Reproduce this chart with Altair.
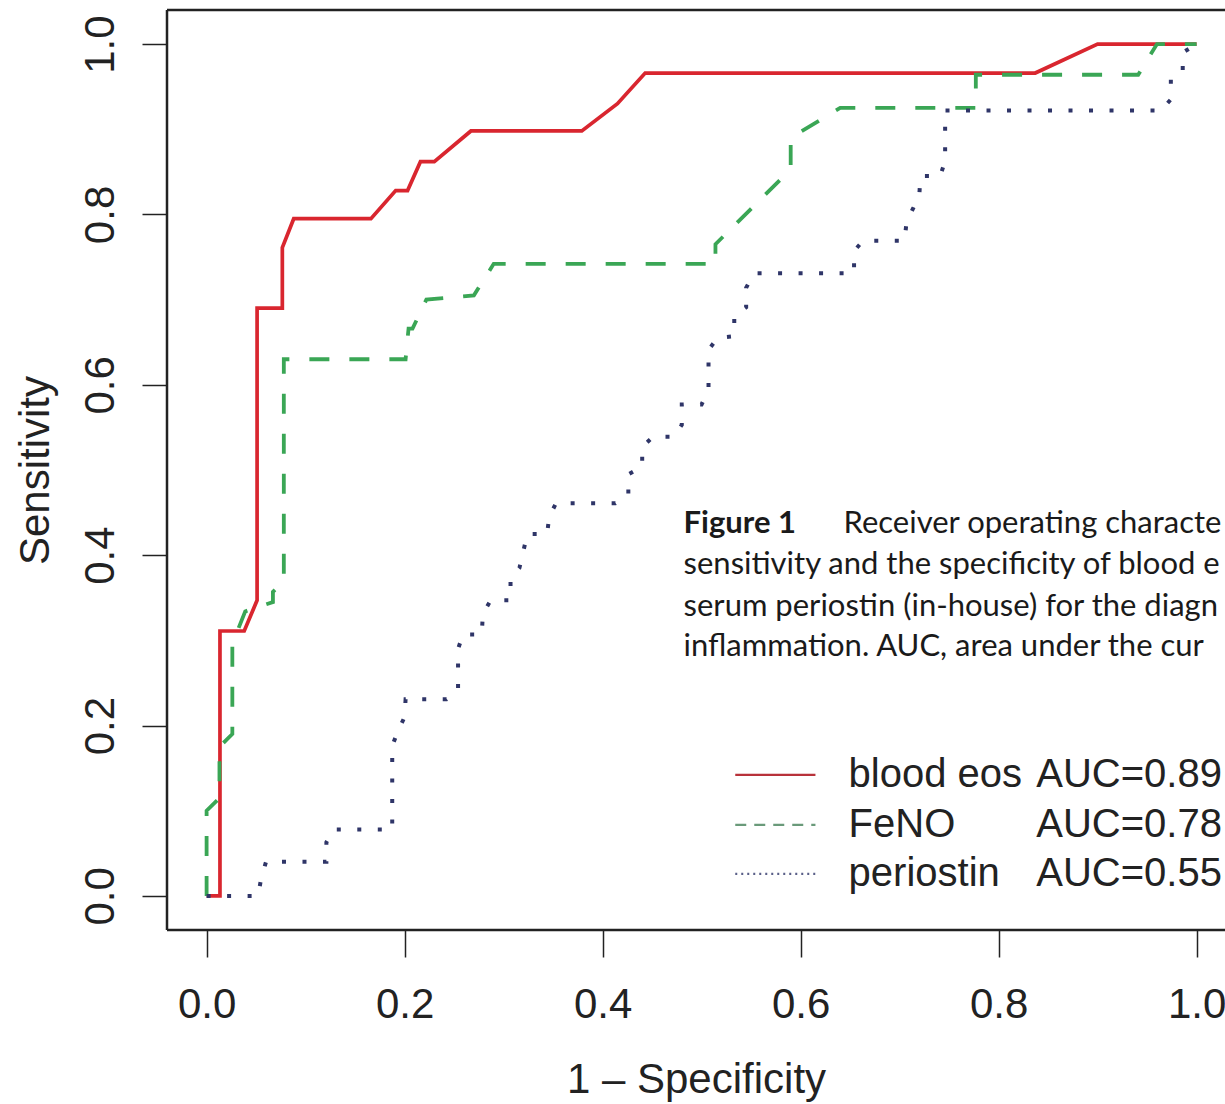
import altair as alt
import pandas as pd

# ---------------- data ----------------
eos_x = [0, 0.0135, 0.0135, 0.038, 0.051, 0.051, 0.0765, 0.0765, 0.088, 0.166, 0.191, 0.203,
         0.216, 0.23, 0.267, 0.379, 0.415, 0.443, 0.837, 0.900, 1.0]
eos_y = [0, 0, 0.311, 0.311, 0.347, 0.690, 0.690, 0.761, 0.795, 0.795, 0.828, 0.828,
         0.862, 0.862, 0.898, 0.898, 0.930, 0.966, 0.966, 1.0, 1.0]

feno_x = [0, 0, 0.013, 0.013, 0.026, 0.026, 0.039, 0.067, 0.067, 0.078, 0.078, 0.201, 0.204,
          0.208, 0.222, 0.27, 0.29, 0.514, 0.514, 0.59, 0.59, 0.64, 0.777, 0.777, 0.941, 0.96, 1.0]
feno_y = [0, 0.1, 0.115, 0.175, 0.19, 0.296, 0.334, 0.345, 0.357, 0.369, 0.630, 0.630, 0.666,
          0.666, 0.70, 0.705, 0.742, 0.742, 0.765, 0.853, 0.89, 0.925, 0.925, 0.964, 0.964, 1.0, 1.0]

peri_x = [0, 0.052, 0.055, 0.06, 0.121, 0.121, 0.128, 0.1875, 0.1875, 0.193, 0.2, 0.201, 0.2424,
          0.254, 0.254, 0.259, 0.278, 0.279, 0.287, 0.307, 0.307, 0.316, 0.320, 0.324, 0.344,
          0.346, 0.353, 0.413, 0.426, 0.426, 0.44, 0.44, 0.451, 0.472, 0.48, 0.48, 0.5, 0.507,
          0.507, 0.516, 0.533, 0.533, 0.545, 0.545, 0.553, 0.654, 0.654, 0.663, 0.705, 0.707,
          0.714, 0.72, 0.721, 0.741, 0.746, 0.746, 0.964, 0.974, 0.974, 0.986, 0.986, 1.0]
peri_y = [0, 0, 0.02, 0.04, 0.04, 0.063, 0.078, 0.078, 0.176, 0.193, 0.21, 0.231, 0.231,
          0.242, 0.29, 0.307, 0.307, 0.331, 0.347, 0.347, 0.372, 0.385, 0.405, 0.425, 0.425,
          0.445, 0.461, 0.461, 0.471, 0.495, 0.504, 0.527, 0.539, 0.539, 0.553, 0.577, 0.577, 0.594,
          0.641, 0.655, 0.657, 0.681, 0.691, 0.714, 0.731, 0.731, 0.757, 0.769, 0.769, 0.791,
          0.808, 0.824, 0.845, 0.845, 0.863, 0.922, 0.922, 0.935, 0.96, 0.968, 0.99, 1.0]

tick_values = [0.0, 0.2, 0.4, 0.6, 0.8, 1.0]

legend_names = ["blood eos", "FeNO", "periostin"]
legend_auc = ["AUC=0.89", "AUC=0.78", "AUC=0.55"]

caption_lines = [
    "sensitivity and the specificity of blood e",
    "serum periostin (in-house) for the diagn",
    "inflammation. AUC, area under the cur",
]
caption_bold = "Figure 1"
caption_first = "Receiver operating characte"

# ---------------- scales / encodings ----------------
XMIN, XMAX = -0.04, 1.0287
YMIN, YMAX = -0.04, 1.04
FONT = "Liberation Sans"
CAP_FONT = "Lato"

xs = alt.Scale(domain=[XMIN, XMAX], nice=False, zero=False)
ys = alt.Scale(domain=[YMIN, YMAX], nice=False, zero=False)

x_axis = alt.Axis(values=tick_values, format=".1f", title="1 \u2013 Specificity",
                  tickSize=27, tickWidth=1.5, tickColor="#222", domain=False, grid=False,
                  labelFontSize=42, labelFont=FONT, labelColor="#222", labelPadding=27,
                  labelFlush=False, labelOverlap=False,
                  titleFontSize=42, titleFont=FONT, titleFontWeight="normal", titleColor="#222",
                  titlePadding=34)
y_axis = alt.Axis(values=tick_values, format=".1f", title="Sensitivity",
                  tickSize=25, tickWidth=1.5, tickColor="#222", domain=False, grid=False,
                  labelFontSize=42, labelFont=FONT, labelColor="#222", labelPadding=29,
                  labelAngle=-90, labelAlign="center", labelBaseline="alphabetic",
                  labelFlush=False, labelOverlap=False,
                  titleFontSize=42, titleFont=FONT, titleFontWeight="normal", titleColor="#222",
                  titlePadding=22)

X = alt.X("fpr:Q", scale=xs, axis=x_axis)
Y = alt.Y("tpr:Q", scale=ys, axis=y_axis)


def curve(xv, yv):
    return pd.DataFrame({"fpr": xv, "tpr": yv, "i": list(range(len(xv)))})


# frame (top, bottom, left)
frame_df = pd.DataFrame({
    "fpr": [XMIN, XMIN, XMIN],
    "fpr2": [XMAX, XMAX, XMIN],
    "tpr": [YMAX, YMIN, YMIN],
    "tpr2": [YMAX, YMIN, YMAX],
})
frame = alt.Chart(frame_df).mark_rule(color="#222", strokeWidth=2.5).encode(
    x=X, x2="fpr2:Q", y=Y, y2="tpr2:Q")

eos = alt.Chart(curve(eos_x, eos_y)).mark_line(
    color="#d9262f", strokeWidth=3.7, strokeJoin="miter").encode(x=X, y=Y, order="i:Q")
feno = alt.Chart(curve(feno_x, feno_y)).mark_line(
    color="#3aa655", strokeWidth=3.8, strokeDash=[20, 20]).encode(x=X, y=Y, order="i:Q")
peri = alt.Chart(curve(peri_x, peri_y)).mark_line(
    color="#2f3568", strokeWidth=4, strokeDash=[4, 16.5]).encode(x=X, y=Y, order="i:Q")

# legend
leg_rows = [0.142, 0.0833, 0.0258]
leg_x0, leg_x1 = 0.534, 0.615
leg_red = alt.Chart(pd.DataFrame({"fpr": [leg_x0, leg_x1], "tpr": [leg_rows[0]] * 2})).mark_line(
    color="#b8323a", strokeWidth=2.2).encode(x=X, y=Y)
leg_green = alt.Chart(pd.DataFrame({"fpr": [leg_x0, leg_x1], "tpr": [leg_rows[1]] * 2})).mark_line(
    color="#6a9a7a", strokeWidth=2.2, strokeDash=[11, 8]).encode(x=X, y=Y)
leg_blue = alt.Chart(pd.DataFrame({"fpr": [leg_x0, leg_x1], "tpr": [leg_rows[2]] * 2})).mark_line(
    color="#5a5f88", strokeWidth=2.2, strokeDash=[2, 4]).encode(x=X, y=Y)

leg_names_df = pd.DataFrame({"fpr": [0.6485] * 3, "tpr": leg_rows, "t": legend_names})
leg_auc_df = pd.DataFrame({"fpr": [0.838] * 3, "tpr": leg_rows, "t": legend_auc})
leg_names = alt.Chart(leg_names_df).mark_text(
    align="left", baseline="middle", font=FONT, fontSize=40, color="#222").encode(x=X, y=Y, text="t:N")
leg_aucs = alt.Chart(leg_auc_df).mark_text(
    align="left", baseline="middle", font=FONT, fontSize=40, color="#222").encode(x=X, y=Y, text="t:N")

# caption overlay
cap_x = 0.4818
cap_rows = [0.3885, 0.3392, 0.2923]
cap_df = pd.DataFrame({"fpr": [cap_x] * 3, "tpr": cap_rows, "t": caption_lines})
cap = alt.Chart(cap_df).mark_text(
    align="left", baseline="middle", font=CAP_FONT, fontSize=31, color="#1a1a1a").encode(x=X, y=Y, text="t:N")
cap_b = alt.Chart(pd.DataFrame({"fpr": [cap_x], "tpr": [0.4366], "t": [caption_bold]})).mark_text(
    align="left", baseline="middle", font=CAP_FONT, fontSize=31, fontWeight="bold", color="#1a1a1a"
).encode(x=X, y=Y, text="t:N")
cap_1 = alt.Chart(pd.DataFrame({"fpr": [0.6434], "tpr": [0.4366], "t": [caption_first]})).mark_text(
    align="left", baseline="middle", font=CAP_FONT, fontSize=31, color="#1a1a1a"
).encode(x=X, y=Y, text="t:N")

chart = alt.layer(
    frame, eos, feno, peri, leg_red, leg_green, leg_blue, leg_names, leg_aucs, cap, cap_b, cap_1
).properties(
    width=1058, height=920,
    autosize=alt.AutoSizeParams(type="none"),
    padding={"left": 167, "top": 10, "right": 0, "bottom": 174},
    background="white",
).configure_view(stroke=None)

chart.save("out.html", embed_options={"renderer": "svg", "actions": False})
